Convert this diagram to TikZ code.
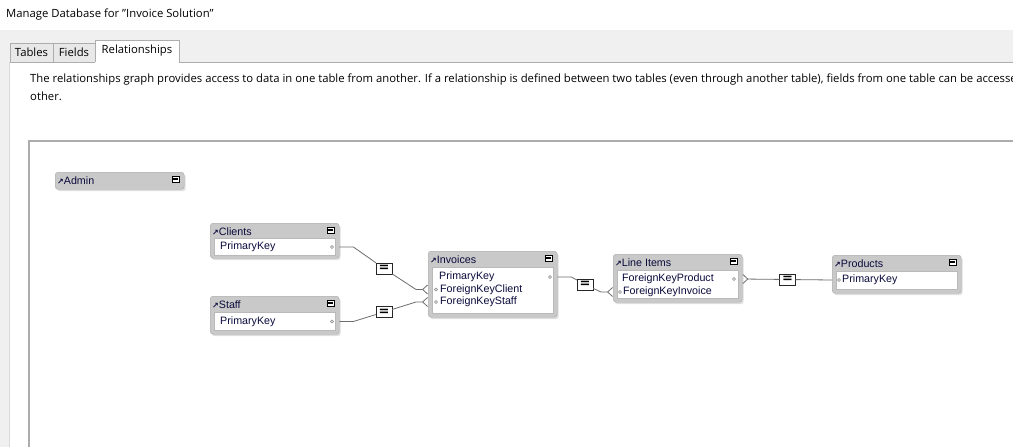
\documentclass[tikz,border=0pt]{standalone}
\usepackage{fontspec}
\setmainfont{Open Sans}
\newfontfamily\tblfont{Liberation Sans}
\newfontfamily\symfont{DejaVu Sans}
\usetikzlibrary{arrows.meta,calc,shadows}

\definecolor{uigray}{HTML}{F0F0F0}
\definecolor{tabfill}{HTML}{E8E8E8}
\definecolor{tabline}{HTML}{ADADAD}
\definecolor{panelline}{HTML}{D9D9D9}
\definecolor{boxgray}{HTML}{C9C9C9}
\definecolor{boxline}{HTML}{A8A8A8}
\definecolor{relgray}{HTML}{6E6E6E}
\definecolor{navy}{HTML}{0A0A3C}

\tikzset{
  uitext/.style={anchor=west,inner sep=0pt,font=\fontsize{11.3}{13}\selectfont},
  tab/.style={draw=tabline,fill=tabfill,minimum height=19pt,inner sep=0pt,font=\fontsize{11.3}{13}\selectfont},
  tblbox/.style={draw=boxline,fill=boxgray,rounded corners=3pt,anchor=north west,inner sep=0pt,minimum width=129pt,
    drop shadow={shadow xshift=1.5pt,shadow yshift=-2pt,opacity=.25}},
  fldbox/.style={draw=gray!55,fill=white,anchor=north west,inner sep=0pt,minimum width=121pt},
  tbltitle/.style={anchor=west,inner sep=0pt,text=navy,font=\tblfont\fontsize{10.7}{12}\selectfont},
  fld/.style={anchor=west,inner sep=0pt,text=navy,font=\tblfont\fontsize{10.7}{12}\selectfont},
  keydot/.style={circle,draw=gray,inner sep=0pt,minimum size=3pt},
  relbox/.style={draw=black!85,fill=white,minimum width=16pt,minimum height=11pt,inner sep=0pt,font=\symfont\bfseries\fontsize{13}{13}\selectfont},
  relline/.style={draw=relgray,line width=.8pt},
  crowend/.style={-{Straight Barb[reversed,length=5pt,width=9pt]}},
  crowstart/.style={{Straight Barb[reversed,length=5pt,width=9pt]}-}
}

\newcommand{\tblarrow}{{\symfont\bfseries\fontsize{8}{6}\selectfont ↗}}
% table frame: name, x, y, height, title
\newcommand{\dbtable}[5]{%
  \node[tblbox,minimum height=#4pt] (#1) at (#2,#3) {};
  \node[tbltitle] (#1T) at ($(#1.north west)+(2,8.5)$) {\tblarrow#5};
  \draw[fill=white] ($(#1.north east)+(-12,4)$) rectangle ++(7,6);
  \fill ($(#1.north east)+(-11,6)$) rectangle ++(5,2);
}

\begin{document}
\begin{tikzpicture}[x=1pt,y=-1pt]
\useasboundingbox (0,0) rectangle (1013,447);
\fill[white] (0,0) rectangle (1013,30);
\fill[uigray] (0,30) rectangle (1013,447);
\node[uitext] (title) at (6,15) {Manage Database for "Invoice Solution"};

% tabs and panel
\draw[panelline,fill=white] (9,62) rectangle (1020,460);
\node[tab,minimum width=43pt] (tabTables) at (31.5,52.5) {Tables};
\node[tab,minimum width=42pt] (tabFields) at (74,52.5) {Fields};
\fill[white] (95,40) rectangle (179,63);
\draw[tabline] (95,62) -- (95,40) -- (179,40) -- (179,62) -- (1020,62);
\node (tabRel) at (137,51) [font=\fontsize{11.3}{13}\selectfont] {Relationships};

\node[uitext] (desc1) at (30,80) {The relationships graph provides access to data in one table from another. If a relationship is defined between two tables (even through another table), fields from one table can be accesse};
\node[uitext] (desc2) at (30,96) {other.};

% graph area
\draw[gray!65,line width=1.5pt] (29,460) -- (29,141) -- (1020,141);

% tables
\dbtable{adm}{55}{172}{17}{Admin}

\dbtable{cli}{210}{223}{35}{Clients}
\node[fldbox,minimum height=17pt] (cliF) at (214,238) {};
\node[fld] (cliPK) at (220,247) {PrimaryKey};
\node[keydot] (cliPKd) at (332,247) {};

\dbtable{stf}{210}{296}{38}{Staff}
\node[fldbox,minimum height=18pt] (stfF) at (214,312) {};
\node[fld] (stfPK) at (220,321.5) {PrimaryKey};
\node[keydot] (stfPKd) at (332,321.5) {};

\dbtable{inv}{428}{251}{66}{Invoices}
\node[fldbox,minimum height=46pt] (invF) at (432,267) {};
\node[fld] (invPK) at (439,277) {PrimaryKey};
\node[fld] (invFKC) at (440,289.5) {ForeignKeyClient};
\node[fld] (invFKS) at (440,302) {ForeignKeyStaff};
\node[keydot] (invPKd) at (550,277) {};
\node[keydot] (invFKCd) at (436,289.5) {};
\node[keydot] (invFKSd) at (436,302) {};

\dbtable{li}{613}{254}{48}{Line Items}
\node[fldbox,minimum height=28pt] (liF) at (617,270) {};
\node[fld] (liFKP) at (622,279) {ForeignKeyProduct};
\node[fld] (liFKI) at (623,292) {ForeignKeyInvoice};
\node[keydot] (liFKPd) at (734,279) {};
\node[keydot] (liFKId) at (620,292) {};

\dbtable{prd}{832}{255}{38}{Products}
\node[fldbox,minimum height=18pt] (prdF) at (836,271) {};
\node[fld] (prdPK) at (842,280) {PrimaryKey};
\node[keydot] (prdPKd) at (839,280) {};

% relationships
\node[relbox] (r1) at (384,268.5) {=};
\node[relbox] (r2) at (384,312) {=};
\node[relbox] (r3) at (585,284.5) {=};
\node[relbox] (r4) at (787.5,279.5) {=};

\draw[relline,crowend] (cli.east |- cliPK) -- ++(14,0) -- (r1) -- ($(inv.west |- invFKC)+(-12,0)$) -- (inv.west |- invFKC);
\draw[relline,crowend] (stf.east |- stfPK) -- ++(14,0) -- (r2) -- ($(inv.west |- invFKS)+(-12,0)$) -- (inv.west |- invFKS);
\draw[relline,crowend] (inv.east |- invPK) -- ++(14,0) -- (r3) -- ($(li.west |- liFKI)+(-12,0)$) -- (li.west |- liFKI);
\draw[relline,crowstart] (li.east |- liFKP) -- (r4);
\draw[relline] (r4) -- (prd.west |- prdPK);
\end{tikzpicture}
\end{document}
